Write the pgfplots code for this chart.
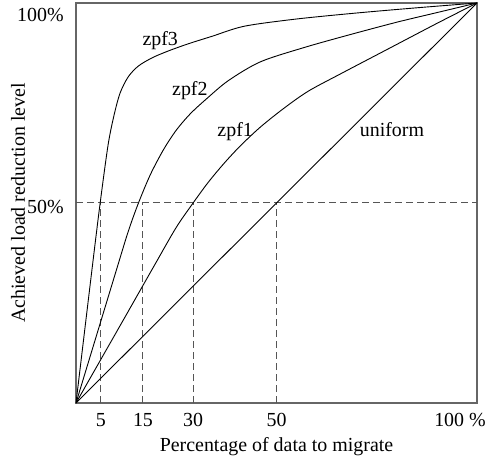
\documentclass[border=0pt]{standalone}
\usepackage{pgfplots}
\pgfplotsset{compat=1.18}
\usepackage{fontspec}
\setmainfont{Liberation Serif}
\definecolor{framegray}{HTML}{666666}
\definecolor{dashgray}{HTML}{555555}
\begin{document}
\fontsize{20}{24}\selectfont
\begin{tikzpicture}
\begin{axis}[
  scale only axis, width=401bp, height=400bp,
  xmin=0, xmax=100, ymin=0, ymax=100,
  axis line style={draw=framegray, line width=1.2bp},
  xtick={6.2,16.7,29.2,50}, xticklabels={5,15,30,50},
  xticklabel style={yshift=-3.5bp},
  extra x ticks={100}, extra x tick labels={100 \%},
  extra x tick style={grid=none, xticklabel style={inner xsep=0pt, xshift=-17bp}},
  ytick={50}, yticklabels={50\%},
  yticklabel style={xshift=-5.5bp, yshift=-4bp},
  extra y ticks={100}, extra y tick labels={100\%},
  extra y tick style={grid=none, yticklabel style={yshift=-8bp}},
  major tick length=0pt,
  tick label style={font=\fontsize{20}{24}\selectfont},
  label style={font=\fontsize{20}{24}\selectfont},
  xlabel={Percentage of data to migrate},
  xlabel style={at={(axis description cs:0.5,0)}, anchor=center, yshift=-44bp, inner sep=0pt},
  ylabel={Achieved load reduction level},
  ylabel style={at={(axis description cs:0,0.5)}, anchor=center, rotate=0, yshift=58bp, inner sep=0pt},
  every axis plot/.append style={line width=0.9bp},
]
% dashed guides
\addplot[dashgray, dash pattern=on 7bp off 4bp, line width=1bp] coordinates {(0,50) (100,50)};
\addplot[dashgray, dash pattern=on 7bp off 4bp, line width=1bp] coordinates {(6.2,0) (6.2,50)};
\addplot[dashgray, dash pattern=on 7bp off 4bp, line width=1bp] coordinates {(16.7,0) (16.7,50)};
\addplot[dashgray, dash pattern=on 7bp off 4bp, line width=1bp] coordinates {(29.2,0) (29.2,50)};
\addplot[dashgray, dash pattern=on 7bp off 4bp, line width=1bp] coordinates {(50,0) (50,50)};
% uniform
\addplot[black] coordinates {(0,0) (100,100)};
% zpf1
\addplot[black, smooth, tension=0.5] coordinates {
(0,0) (12,21.1) (20,35.2) (25,43.9) (29.2,50) (33,55.2) (37,60) (41,64.3) (46,69)
(52,73.8) (58,78) (66,82.3) (78,88.6) (90,94.9) (100,100)};
% zpf2
\addplot[black, smooth, tension=0.5] coordinates {
(0,0) (10,33) (13,42.8) (15.5,49.8) (18.5,57) (21.8,63.3) (25,68.2) (28.5,72.3)
(32.5,76) (38,80.6) (46,85.3) (57,88.9) (68,92) (80,95.2) (90,97.6) (100,100)};
% zpf3
\addplot[black, smooth, tension=0.5] coordinates {
(0,0) (4,33.5) (6,49.8) (8,64.5) (9.5,72) (11,77.5) (13,81.5) (15.5,84.2) (19,86.3)
(23,88) (28,89.8) (34,91.7) (42,94.2) (55,96.0) (70,97.5) (85,98.8) (100,100)};
\node at (axis cs:21,90.7) {zpf3};
\node at (axis cs:28.4,78) {zpf2};
\node at (axis cs:39.7,67.8) {zpf1};
\node at (axis cs:78.8,68.3) {uniform};
\end{axis}
\path ([shift={(-76bp,-61bp)}]current axis.south west) rectangle ([shift={(9bp,3bp)}]current axis.north east);
\end{tikzpicture}
\end{document}
